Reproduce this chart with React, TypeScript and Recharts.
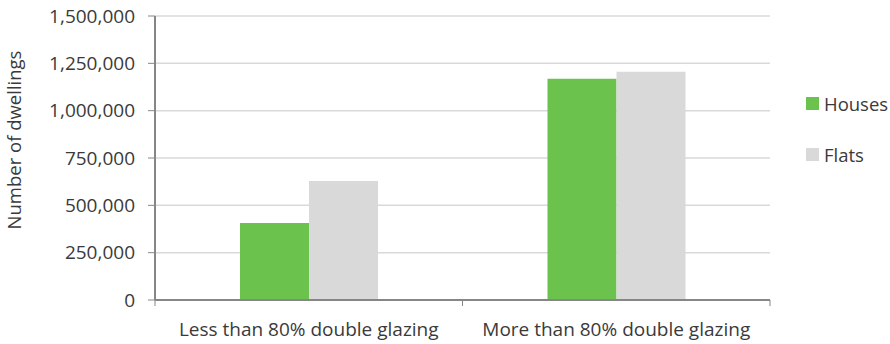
import React from 'react';
import { BarChart, Bar, XAxis, YAxis, CartesianGrid } from 'recharts';

const categories = ['Less than 80% double glazing', 'More than 80% double glazing'];
const houses = [407000, 1169000];
const flats = [628000, 1206000];
const yTicks = [0, 250000, 500000, 750000, 1000000, 1250000, 1500000];
const seriesNames = ['Houses', 'Flats'];

const data = categories.map((c, i) => ({ name: c, Houses: houses[i], Flats: flats[i] }));

const FONT = '"Open Sans", "Noto Sans", sans-serif';
const TEXT = '#3a3a3a';
const AXIS = '#868686';
const GREEN = '#6BC24C';
const GREY = '#D9D9D9';
const seriesColors = [GREEN, GREY];

const XTick = (props: any) => {
  const { x, y, payload } = props;
  const off = payload && typeof payload.offset === 'number' && payload.offset > 0 ? payload.offset : 153.75;
  return (
    <g>
      <line x1={x - off} x2={x - off} y1={y} y2={y + 6} stroke={AXIS} strokeWidth={1} />
      <line x1={x + off} x2={x + off} y1={y} y2={y + 6} stroke={AXIS} strokeWidth={1} />
      <text x={x} y={y + 29} textAnchor="middle" dy="0.35em" fill={TEXT} fontSize={19} fontFamily={FONT}>
        {payload.value}
      </text>
    </g>
  );
};

const YLabel = () => (
  <text
    x={15}
    y={140}
    transform="rotate(-90, 15, 140)"
    textAnchor="middle"
    dy="0.35em"
    fill={TEXT}
    fontSize={18.5}
    fontFamily={FONT}
  >
    Number of dwellings
  </text>
);

export default function App() {
  return (
    <div style={{ position: 'absolute', left: 0, top: 0, width: 890, height: 344, background: '#fff' }}>
      <BarChart
        width={890}
        height={344}
        data={data}
        margin={{ top: 16, right: 120, bottom: 0, left: 0 }}
        barCategoryGap={85}
        barGap={0}
      >
        <CartesianGrid vertical={false} stroke="#D9D9D9" strokeWidth={1.5} />
        <XAxis
          dataKey="name"
          height={44}
          tickLine={false}
          tickSize={0}
          tickMargin={0}
          axisLine={{ stroke: AXIS, strokeWidth: 2 }}
          tick={<XTick />}
          interval={0}
        />
        <YAxis
          width={155}
          domain={[0, 1500000]}
          ticks={yTicks}
          interval={0}
          tickSize={7}
          tickMargin={13}
          tickLine={{ stroke: AXIS }}
          axisLine={{ stroke: AXIS, strokeWidth: 2 }}
          tick={{ fill: TEXT, fontSize: 19, fontFamily: FONT }}
          tickFormatter={(v: number) => v.toLocaleString('en-US')}
          label={<YLabel />}
        />
        <Bar dataKey="Houses" fill={GREEN} isAnimationActive={false} />
        <Bar dataKey="Flats" fill={GREY} isAnimationActive={false} />
      </BarChart>
      <div style={{ position: 'absolute', left: 806, top: 77.5, display: 'flex', flexDirection: 'column', fontFamily: FONT }}>
        {seriesNames.map((n, i) => (
          <div key={n} style={{ display: 'flex', alignItems: 'center', height: 51 }}>
            <span style={{ display: 'inline-block', width: 13, height: 13, background: seriesColors[i], marginRight: 5 }} />
            <span style={{ fontSize: 18.5, color: TEXT }}>{n}</span>
          </div>
        ))}
      </div>
    </div>
  );
}
